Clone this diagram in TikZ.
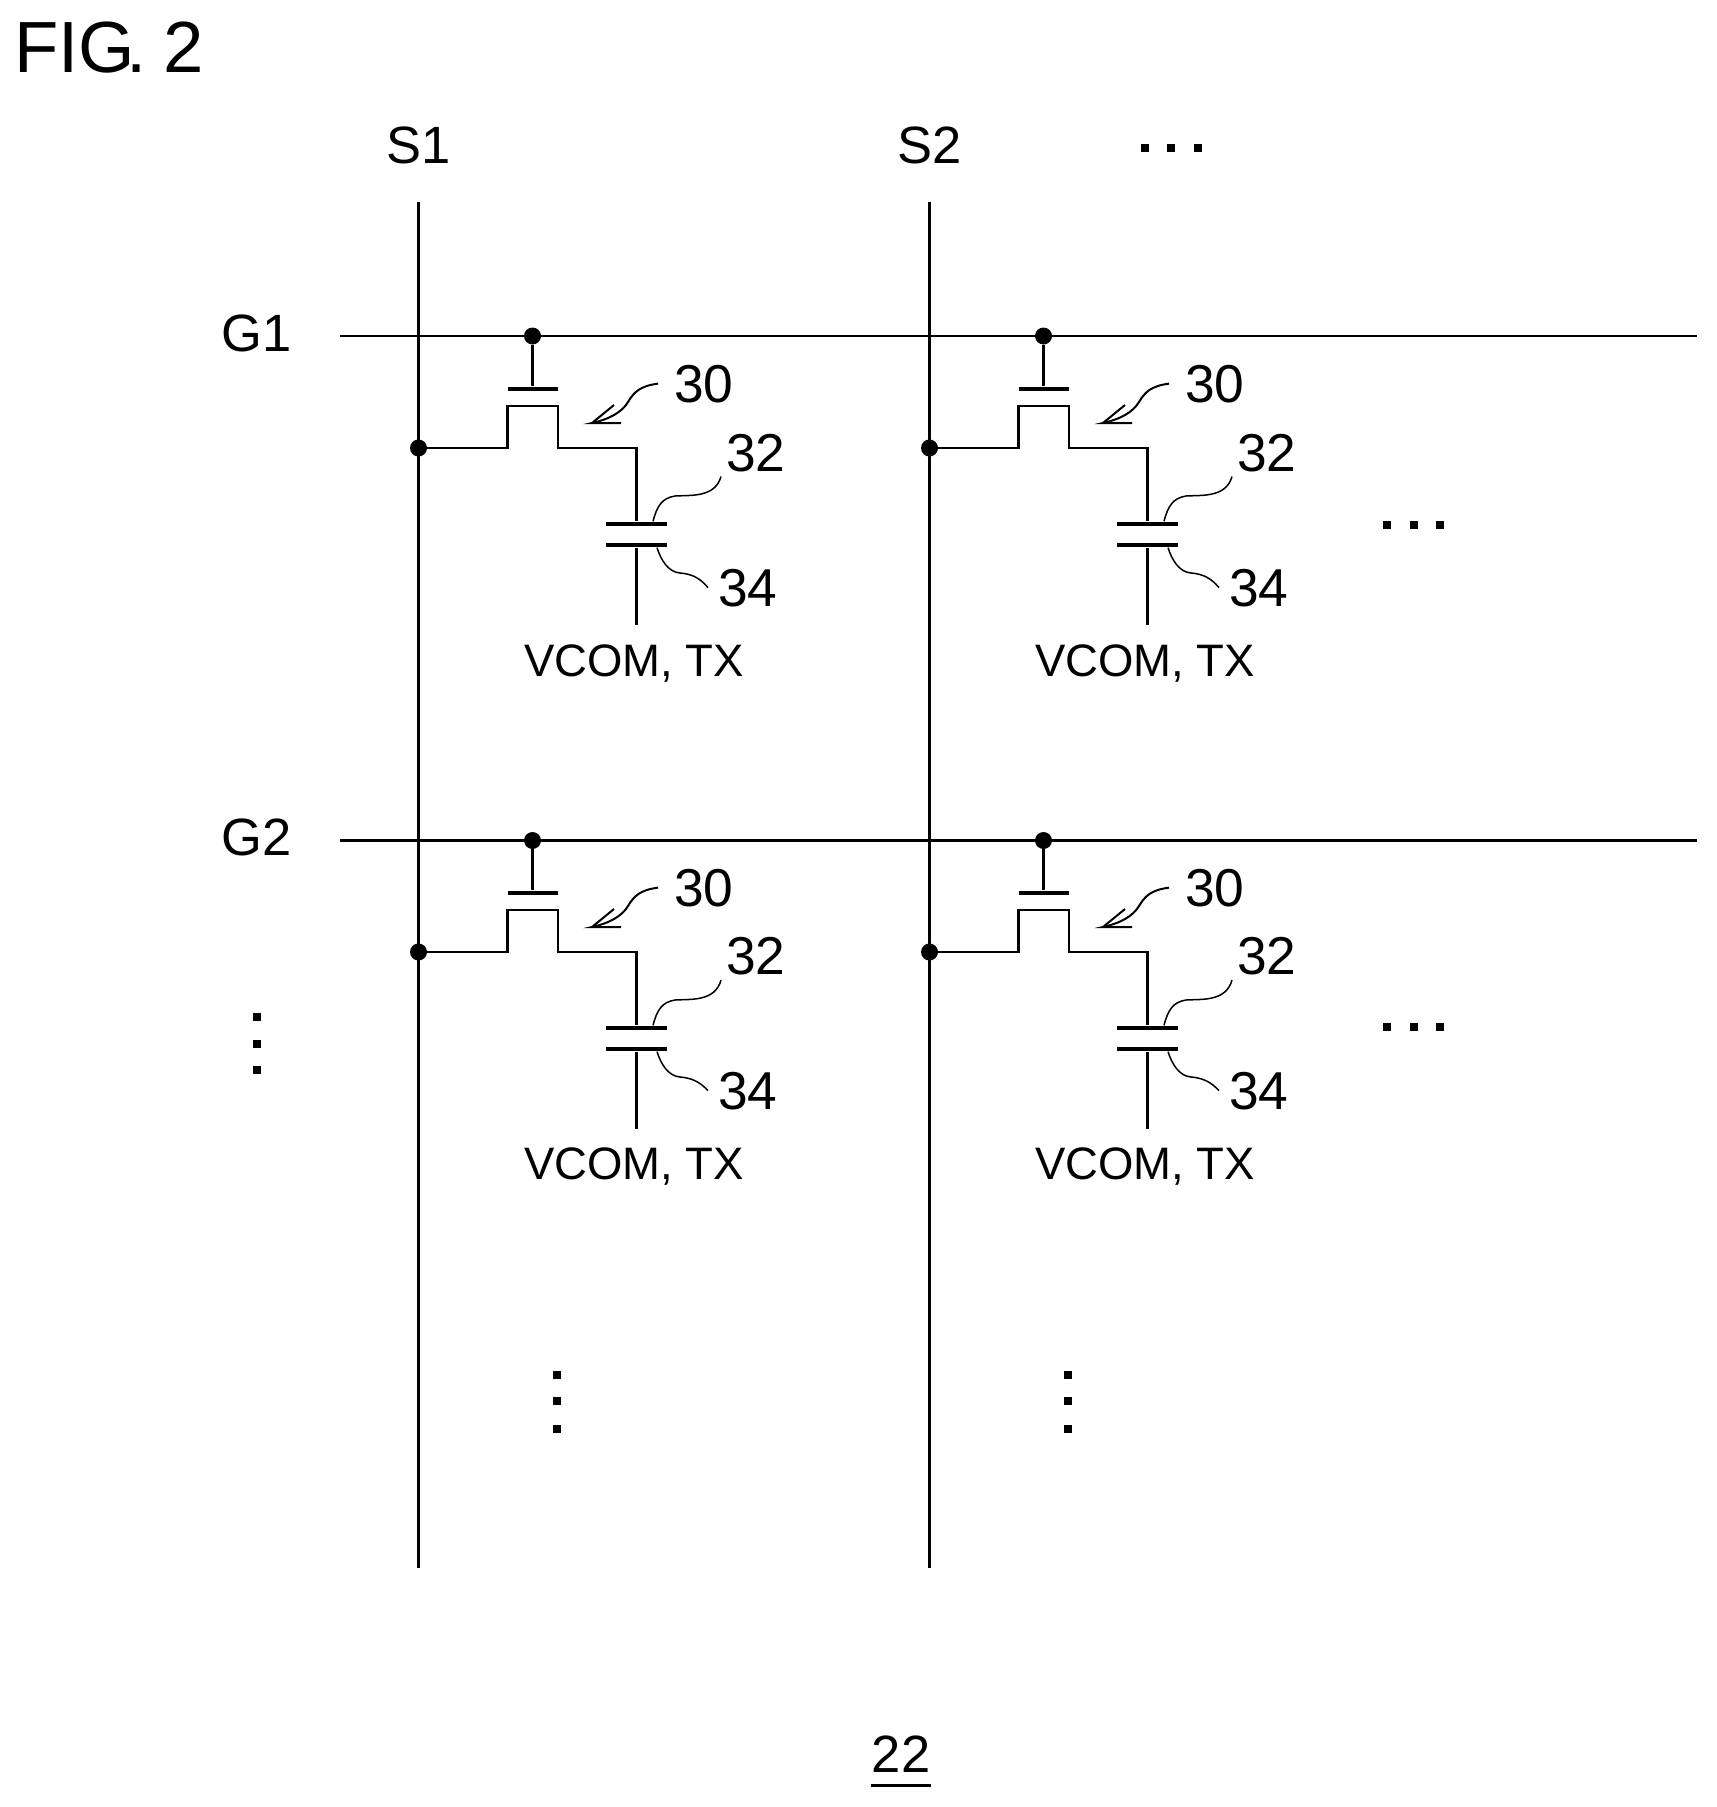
\documentclass[tikz,border=0pt]{standalone}
\usepackage{fontspec}
\setmainfont{Liberation Sans}
\tikzset{
  wire/.style={line width=1.6pt},
  leader/.style={line width=0.9pt},
  arrowleader/.style={line width=1.2pt},
  joint/.style={circle,fill=black,inner sep=0pt,minimum size=10.2pt},
  gateplate/.style={rectangle,fill=black,inner sep=0pt,minimum width=30pt,minimum height=2.8pt},
  capplate/.style={rectangle,fill=black,inner sep=0pt,minimum width=37pt,minimum height=2.8pt},
  ellipsisdot/.style={rectangle,fill=black,inner sep=0pt,minimum size=4.4pt},
  titlelabel/.style={anchor=base west,inner sep=0pt,font=\fontsize{43.5}{45}\selectfont},
  linelabel/.style={anchor=base,inner sep=0pt,font=\fontsize{31.5}{33}\selectfont},
  refnum/.style={anchor=base west,inner sep=0pt,outer sep=3pt,font=\fontsize{32}{34}\selectfont},
  pinlabel/.style={anchor=base,inner sep=0pt,font=\fontsize{27.3}{29}\selectfont}
}

\begin{document}
\begin{tikzpicture}[x=0.6pt,y=0.6pt,yscale=-1,xscale=1]
\useasboundingbox (0,0) rectangle (1717,1807);
\node[titlelabel] (fig) at (14,72) {FIG\kern-.12em.\kern-.05em{} 2};
\node[linelabel] (labs1) at (419,163) {S1};
\node[linelabel] (labs2) at (930,163) {S2};
\node[linelabel] (labg1) at (257,351) {G1};
\node[linelabel] (labg2) at (257,855) {G2};
% signal and gate lines
\coordinate (s1top) at (418.5,202); \coordinate (s1bot) at (418.5,1568);
\coordinate (s2top) at (929.5,202); \coordinate (s2bot) at (929.5,1568);
\coordinate (g1lft) at (340,336); \coordinate (g1rgt) at (1697,336);
\coordinate (g2lft) at (340,840.5); \coordinate (g2rgt) at (1697,840.5);
\draw[wire] (s1top) -- (s1bot);
\draw[wire] (s2top) -- (s2bot);
\draw[wire] (g1lft) -- (g1rgt);
\draw[wire] (g2lft) -- (g2rgt);
% cell G1 S1
\node[joint] (gj11) at (532.5,336) {};
\node[joint] (sj11) at (418.5,448) {};
\node[gateplate] (gp11) at (532.5,389) {};
\node[capplate] (ct11) at (636.5,524) {};
\node[capplate] (cb11) at (636.5,545) {};
\node[refnum] (n3011) at (669,402) {30};
\node[refnum] (n3211) at (721,471) {32};
\node[refnum] (n3411) at (713,606) {34};
\node[pinlabel] (vc11) at (634,676) {VCOM, TX};
\draw[wire] (gj11) -- (gp11);
\draw[wire] (sj11) -- (507.5,448) -- (507.5,406) -- (558,406) -- (558,448) -- (636.5,448) -- (ct11);
\draw[wire] (cb11) -- (636.5,625) coordinate (e11);
\draw[arrowleader] ([xshift=-6.6pt]n3011.west) .. controls (640,386) and (634,392) .. (628,402) .. controls (622,412) and (610,419) .. (592,423) coordinate (t11) -- (621,423);
\draw[arrowleader] (t11) -- (614,405);
\draw[leader] ([xshift=9.9pt]ct11.north) .. controls (657,506) and (662,498) .. (675,496) .. controls (690,495) and (715,498) .. (n3211.south west);
\draw[leader] ([xshift=12.3pt]cb11.south) .. controls (661,560) and (668,572) .. (680,573) .. controls (692,574) and (700,578) .. ([xshift=-3pt]n3411.west);
% cell G1 S2
\node[joint] (gj12) at (1043.5,336) {};
\node[joint] (sj12) at (929.5,448) {};
\node[gateplate] (gp12) at (1043.5,389) {};
\node[capplate] (ct12) at (1147.5,524) {};
\node[capplate] (cb12) at (1147.5,545) {};
\node[refnum] (n3012) at (1180,402) {30};
\node[refnum] (n3212) at (1232,471) {32};
\node[refnum] (n3412) at (1224,606) {34};
\node[pinlabel] (vc12) at (1145,676) {VCOM, TX};
\draw[wire] (gj12) -- (gp12);
\draw[wire] (sj12) -- (1018.5,448) -- (1018.5,406) -- (1069,406) -- (1069,448) -- (1147.5,448) -- (ct12);
\draw[wire] (cb12) -- (1147.5,625) coordinate (e12);
\draw[arrowleader] ([xshift=-6.6pt]n3012.west) .. controls (1151,386) and (1145,392) .. (1139,402) .. controls (1133,412) and (1121,419) .. (1103,423) coordinate (t12) -- (1132,423);
\draw[arrowleader] (t12) -- (1125,405);
\draw[leader] ([xshift=9.9pt]ct12.north) .. controls (1168,506) and (1173,498) .. (1186,496) .. controls (1201,495) and (1226,498) .. (n3212.south west);
\draw[leader] ([xshift=12.3pt]cb12.south) .. controls (1172,560) and (1179,572) .. (1191,573) .. controls (1203,574) and (1211,578) .. ([xshift=-3pt]n3412.west);
% cell G2 S1
\node[joint] (gj21) at (532.5,840.5) {};
\node[joint] (sj21) at (418.5,952) {};
\node[gateplate] (gp21) at (532.5,893) {};
\node[capplate] (ct21) at (636.5,1028) {};
\node[capplate] (cb21) at (636.5,1049) {};
\node[refnum] (n3021) at (669,906) {30};
\node[refnum] (n3221) at (721,974.5) {32};
\node[refnum] (n3421) at (713,1109) {34};
\node[pinlabel] (vc21) at (634,1179) {VCOM, TX};
\draw[wire] (gj21) -- (gp21);
\draw[wire] (sj21) -- (507.5,952) -- (507.5,910) -- (558,910) -- (558,952) -- (636.5,952) -- (ct21);
\draw[wire] (cb21) -- (636.5,1129) coordinate (e21);
\draw[arrowleader] ([xshift=-6.6pt]n3021.west) .. controls (640,890) and (634,896) .. (628,906) .. controls (622,916) and (610,923) .. (592,927) coordinate (t21) -- (621,927);
\draw[arrowleader] (t21) -- (614,909);
\draw[leader] ([xshift=9.9pt]ct21.north) .. controls (657,1010) and (662,1002) .. (675,1000) .. controls (690,999) and (715,1002) .. (n3221.south west);
\draw[leader] ([xshift=12.3pt]cb21.south) .. controls (661,1064) and (668,1076) .. (680,1077) .. controls (692,1078) and (700,1082) .. ([xshift=-3pt]n3421.west);
% cell G2 S2
\node[joint] (gj22) at (1043.5,840.5) {};
\node[joint] (sj22) at (929.5,952) {};
\node[gateplate] (gp22) at (1043.5,893) {};
\node[capplate] (ct22) at (1147.5,1028) {};
\node[capplate] (cb22) at (1147.5,1049) {};
\node[refnum] (n3022) at (1180,906) {30};
\node[refnum] (n3222) at (1232,974.5) {32};
\node[refnum] (n3422) at (1224,1109) {34};
\node[pinlabel] (vc22) at (1145,1179) {VCOM, TX};
\draw[wire] (gj22) -- (gp22);
\draw[wire] (sj22) -- (1018.5,952) -- (1018.5,910) -- (1069,910) -- (1069,952) -- (1147.5,952) -- (ct22);
\draw[wire] (cb22) -- (1147.5,1129) coordinate (e22);
\draw[arrowleader] ([xshift=-6.6pt]n3022.west) .. controls (1151,890) and (1145,896) .. (1139,906) .. controls (1133,916) and (1121,923) .. (1103,927) coordinate (t22) -- (1132,927);
\draw[arrowleader] (t22) -- (1125,909);
\draw[leader] ([xshift=9.9pt]ct22.north) .. controls (1168,1010) and (1173,1002) .. (1186,1000) .. controls (1201,999) and (1226,1002) .. (n3222.south west);
\draw[leader] ([xshift=12.3pt]cb22.south) .. controls (1172,1064) and (1179,1076) .. (1191,1077) .. controls (1203,1078) and (1211,1082) .. ([xshift=-3pt]n3422.west);
% continuation dots
\node[ellipsisdot] (dt1) at (1145,148) {};
\node[ellipsisdot] (dt2) at (1171,148) {};
\node[ellipsisdot] (dt3) at (1198,148) {};
\node[ellipsisdot] (dr1) at (1387,525) {};
\node[ellipsisdot] (dr2) at (1414,525) {};
\node[ellipsisdot] (dr3) at (1440,525) {};
\node[ellipsisdot] (ds1) at (1387,1027) {};
\node[ellipsisdot] (ds2) at (1414,1027) {};
\node[ellipsisdot] (ds3) at (1440,1027) {};
\node[ellipsisdot] (dl1) at (257,1017) {};
\node[ellipsisdot] (dl2) at (257,1044) {};
\node[ellipsisdot] (dl3) at (257,1070) {};
\node[ellipsisdot] (da1) at (557,1375) {};
\node[ellipsisdot] (da2) at (557,1401) {};
\node[ellipsisdot] (da3) at (557,1429) {};
\node[ellipsisdot] (db1) at (1068,1375) {};
\node[ellipsisdot] (db2) at (1068,1401) {};
\node[ellipsisdot] (db3) at (1068,1429) {};
\node[linelabel] (n22) at (901,1772) {22};
\draw[line width=1.8pt] ([yshift=8pt]n22.base west) -- ([yshift=8pt]n22.base east);
\end{tikzpicture}
\end{document}
